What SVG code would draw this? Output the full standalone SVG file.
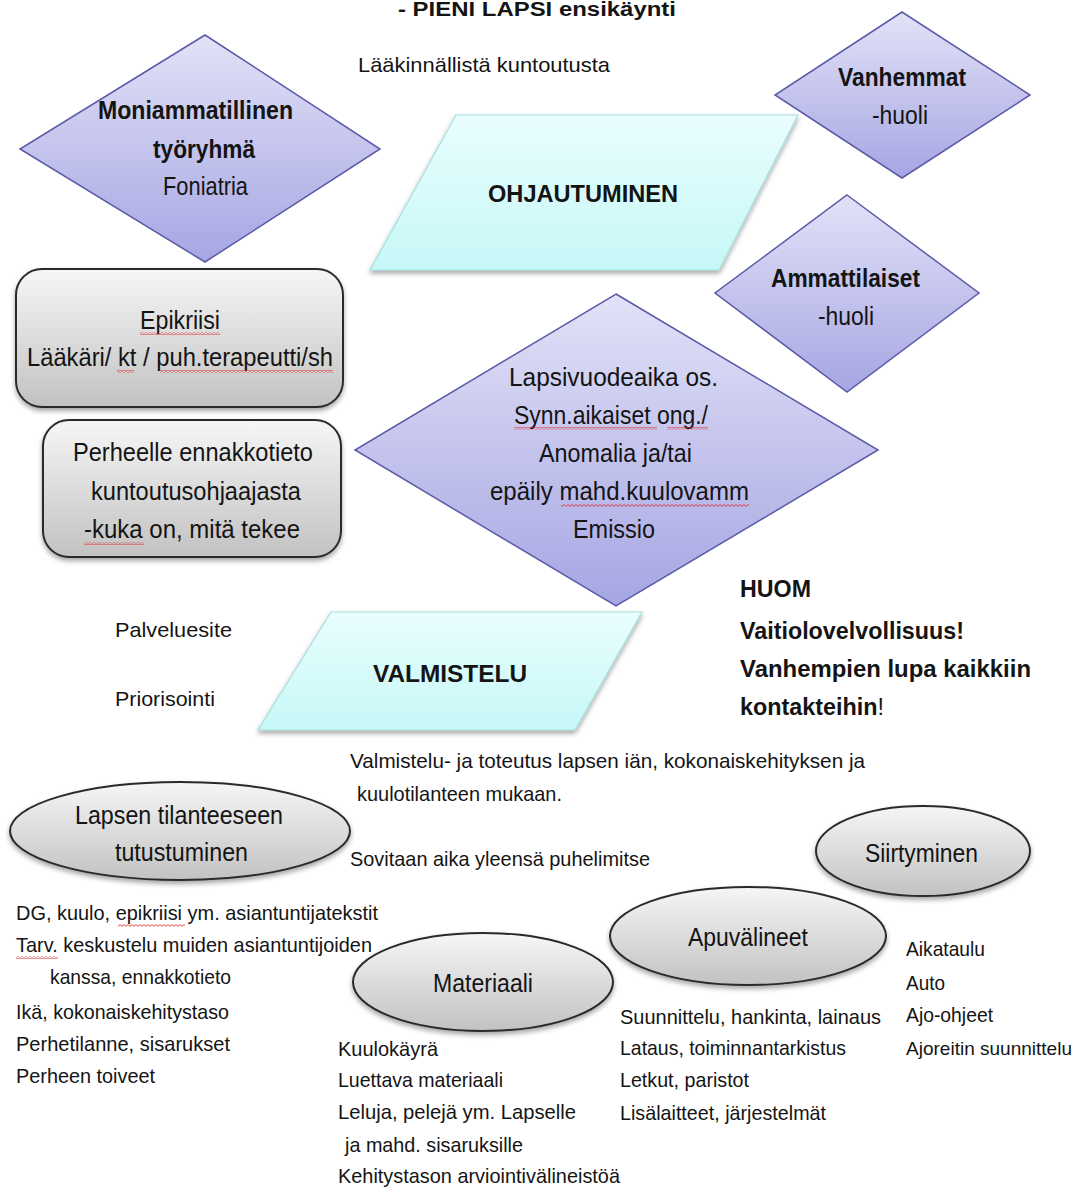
<svg xmlns="http://www.w3.org/2000/svg" width="1081" height="1187" viewBox="0 0 1081 1187">
  <defs>
    <linearGradient id="gDiamond" x1="0" y1="0" x2="0" y2="1">
      <stop offset="0" stop-color="#e2e2f8"/>
      <stop offset="1" stop-color="#a6a6e3"/>
    </linearGradient>
    <linearGradient id="gPara" x1="0" y1="0" x2="0" y2="1">
      <stop offset="0" stop-color="#eafefe"/>
      <stop offset="1" stop-color="#c6f7f7"/>
    </linearGradient>
    <linearGradient id="gGrey" x1="0" y1="0" x2="0" y2="1">
      <stop offset="0" stop-color="#f6f6f6"/>
      <stop offset="1" stop-color="#c2c2c2"/>
    </linearGradient>
    <filter id="shadow" x="-10%" y="-10%" width="120%" height="130%">
      <feDropShadow dx="0" dy="3" stdDeviation="2.5" flood-color="#000" flood-opacity="0.35"/>
    </filter>
    <pattern id="squiggle" width="4" height="3" patternUnits="userSpaceOnUse">
      <path d="M0,0.6 L2,2.4 L4,0.6" fill="none" stroke="#e03030" stroke-width="0.9"/>
    </pattern>
    <style>
      text { font-family: "Liberation Sans", Arial, sans-serif; fill: #141414; }
      .t20 { font-size: 21px; }
      .t22 { font-size: 23px; }
      .t24 { font-size: 25px; }
      .b { font-weight: bold; }
      .diamond { fill: url(#gDiamond); stroke: #5a5aa6; stroke-width: 1.5; }
      .para { fill: url(#gPara); stroke: #a6dede; stroke-width: 1.2; filter: url(#shadow); }
      .grey { fill: url(#gGrey); stroke: #2a2a2a; stroke-width: 2; filter: url(#shadow); }
      .sq { fill: url(#squiggle); }
    </style>
  </defs>

  <rect width="1081" height="1187" fill="#ffffff"/>

  <!-- free labels -->
  <g id="title">
    <text class="b" font-size="20" x="398" y="16" textLength="278" lengthAdjust="spacingAndGlyphs">- PIENI  LAPSI ensikäynti</text>
  </g>
  <g id="label-laakinnallista">
    <text class="t20" x="358" y="72" textLength="252" lengthAdjust="spacingAndGlyphs">Lääkinnällistä  kuntoutusta</text>
  </g>

  <!-- connectors (none drawn) -->
  <g id="connectors"></g>

  <!-- diamond: Moniammatillinen työryhmä -->
  <g id="node-moniammatillinen">
    <polygon class="diamond" points="205,35 380,149 205,262 20,149"/>
    <text class="t24 b" x="98" y="119" textLength="195" lengthAdjust="spacingAndGlyphs">Moniammatillinen</text>
    <text class="t24 b" x="153" y="158" textLength="102" lengthAdjust="spacingAndGlyphs">työryhmä</text>
    <text class="t24" x="163" y="195" textLength="85" lengthAdjust="spacingAndGlyphs">Foniatria</text>
  </g>

  <!-- parallelogram: OHJAUTUMINEN -->
  <g id="node-ohjautuminen">
    <polygon class="para" points="456,115 798,115 719,270 370,270"/>
    <text class="t22 b" x="488" y="202" textLength="190" lengthAdjust="spacingAndGlyphs">OHJAUTUMINEN</text>
  </g>

  <!-- diamond: Vanhemmat -->
  <g id="node-vanhemmat">
    <polygon class="diamond" points="902,12 1030,95 902,178 775,95"/>
    <text class="t24 b" x="838" y="86" textLength="128" lengthAdjust="spacingAndGlyphs">Vanhemmat</text>
    <text class="t24" x="872" y="124" textLength="56" lengthAdjust="spacingAndGlyphs">-huoli</text>
  </g>

  <!-- diamond: Ammattilaiset -->
  <g id="node-ammattilaiset">
    <polygon class="diamond" points="847,195 979,293 847,392 715,293"/>
    <text class="t24 b" x="771" y="287" textLength="149" lengthAdjust="spacingAndGlyphs">Ammattilaiset</text>
    <text class="t24" x="818" y="325" textLength="56" lengthAdjust="spacingAndGlyphs">-huoli</text>
  </g>

  <!-- rounded box: Epikriisi -->
  <g id="node-epikriisi">
    <rect class="grey" x="16" y="269" width="327" height="138" rx="26"/>
    <text class="t24" x="140" y="329" textLength="80" lengthAdjust="spacingAndGlyphs">Epikriisi</text>
    <text class="t24" x="27" y="366" textLength="306" lengthAdjust="spacingAndGlyphs">Lääkäri/  kt / puh.terapeutti/sh</text>
    <rect class="sq" x="140" y="332" width="80" height="3"/>
    <rect class="sq" x="117" y="370" width="17" height="3"/>
    <rect class="sq" x="160" y="370" width="173" height="3"/>
  </g>

  <!-- rounded box: Perheelle ennakkotieto -->
  <g id="node-perheelle">
    <rect class="grey" x="43" y="420" width="298" height="137" rx="26"/>
    <text class="t24" x="73" y="461" textLength="240" lengthAdjust="spacingAndGlyphs">Perheelle  ennakkotieto</text>
    <text class="t24" x="91" y="500" textLength="210" lengthAdjust="spacingAndGlyphs">kuntoutusohjaajasta</text>
    <text class="t24" x="84" y="538" textLength="216" lengthAdjust="spacingAndGlyphs">-kuka on,  mitä tekee</text>
    <rect class="sq" x="84" y="542" width="60" height="3"/>
  </g>

  <!-- diamond: Lapsivuodeaika -->
  <g id="node-lapsivuodeaika">
    <polygon class="diamond" points="616,294 878,450 616,606 355,450"/>
    <text class="t24" x="509" y="386" textLength="209" lengthAdjust="spacingAndGlyphs">Lapsivuodeaika  os.</text>
    <text class="t24" x="514" y="424" textLength="194" lengthAdjust="spacingAndGlyphs">Synn.aikaiset  ong./</text>
    <text class="t24" x="539" y="462" textLength="153" lengthAdjust="spacingAndGlyphs">Anomalia  ja/tai</text>
    <text class="t24" x="490" y="500" textLength="259" lengthAdjust="spacingAndGlyphs">epäily  mahd.kuulovamm</text>
    <text class="t24" x="573" y="538" textLength="82" lengthAdjust="spacingAndGlyphs">Emissio</text>
    <rect class="sq" x="514" y="427" width="143" height="3"/>
    <rect class="sq" x="667" y="427" width="41" height="3"/>
    <rect class="sq" x="561" y="504" width="188" height="3"/>
  </g>

  <!-- note: HUOM -->
  <g id="label-huom">
    <text class="t22 b" x="740" y="597" textLength="71" lengthAdjust="spacingAndGlyphs">HUOM</text>
    <text class="t22 b" x="740" y="639" textLength="224" lengthAdjust="spacingAndGlyphs">Vaitiolovelvollisuus!</text>
    <text class="t22 b" x="740" y="677" textLength="291" lengthAdjust="spacingAndGlyphs">Vanhempien  lupa kaikkiin</text>
    <text class="t22 b" x="740" y="715" textLength="144" lengthAdjust="spacingAndGlyphs">kontakteihin<tspan font-weight="normal">!</tspan></text>
  </g>

  <!-- parallelogram: VALMISTELU -->
  <g id="node-valmistelu">
    <polygon class="para" points="331,612 642,612 575,730 258,730"/>
    <text class="t22 b" x="373" y="682" textLength="154" lengthAdjust="spacingAndGlyphs">VALMISTELU</text>
  </g>
  <g id="label-valmistelu-side">
    <text class="t20" x="115" y="637" textLength="117" lengthAdjust="spacingAndGlyphs">Palveluesite</text>
    <text class="t20" x="115" y="706" textLength="100" lengthAdjust="spacingAndGlyphs">Priorisointi</text>
  </g>
  <g id="label-valmistelu-note">
    <text class="t20" x="350" y="768" textLength="515" lengthAdjust="spacingAndGlyphs">Valmistelu-  ja toteutus  lapsen iän, kokonaiskehityksen ja</text>
    <text class="t20" x="357" y="801" textLength="205" lengthAdjust="spacingAndGlyphs">kuulotilanteen  mukaan.</text>
    <text class="t20" x="350" y="866" textLength="300" lengthAdjust="spacingAndGlyphs">Sovitaan aika yleensä puhelimitse</text>
  </g>

  <!-- ellipse: Lapsen tilanteeseen tutustuminen -->
  <g id="node-lapsen-tilanne">
    <ellipse class="grey" cx="180" cy="831" rx="170" ry="49"/>
    <text class="t24" x="75" y="824" textLength="208" lengthAdjust="spacingAndGlyphs">Lapsen  tilanteeseen</text>
    <text class="t24" x="115" y="861" textLength="133" lengthAdjust="spacingAndGlyphs">tutustuminen</text>
  </g>
  <g id="list-lapsen-tilanne">
    <text class="t20" x="16" y="920" textLength="362" lengthAdjust="spacingAndGlyphs">DG, kuulo,  epikriisi  ym. asiantuntijatekstit</text>
    <text class="t20" x="16" y="952" textLength="356" lengthAdjust="spacingAndGlyphs">Tarv.  keskustelu  muiden  asiantuntijoiden</text>
    <text class="t20" x="50" y="984" textLength="181" lengthAdjust="spacingAndGlyphs">kanssa, ennakkotieto</text>
    <text class="t20" x="16" y="1019" textLength="213" lengthAdjust="spacingAndGlyphs">Ikä, kokonaiskehitystaso</text>
    <text class="t20" x="16" y="1051" textLength="214" lengthAdjust="spacingAndGlyphs">Perhetilanne,  sisarukset</text>
    <text class="t20" x="16" y="1083" textLength="139" lengthAdjust="spacingAndGlyphs">Perheen  toiveet</text>
    <rect class="sq" x="118" y="924" width="67" height="3"/>
    <rect class="sq" x="16" y="956" width="42" height="3"/>
  </g>

  <!-- ellipse: Siirtyminen -->
  <g id="node-siirtyminen">
    <ellipse class="grey" cx="923" cy="851" rx="107" ry="45"/>
    <text class="t24" x="865" y="862" textLength="113" lengthAdjust="spacingAndGlyphs">Siirtyminen</text>
  </g>
  <g id="list-siirtyminen">
    <text class="t20" x="906" y="956" textLength="79" lengthAdjust="spacingAndGlyphs">Aikataulu</text>
    <text class="t20" x="906" y="990" textLength="39" lengthAdjust="spacingAndGlyphs">Auto</text>
    <text class="t20" x="906" y="1022" textLength="87" lengthAdjust="spacingAndGlyphs">Ajo-ohjeet</text>
    <text font-size="19" x="906" y="1055" textLength="166" lengthAdjust="spacingAndGlyphs">Ajoreitin suunnittelu</text>
  </g>

  <!-- ellipse: Apuvälineet -->
  <g id="node-apuvalineet">
    <ellipse class="grey" cx="748" cy="936" rx="138" ry="49"/>
    <text class="t24" x="688" y="946" textLength="120" lengthAdjust="spacingAndGlyphs">Apuvälineet</text>
  </g>
  <g id="list-apuvalineet">
    <text class="t20" x="620" y="1024" textLength="261" lengthAdjust="spacingAndGlyphs">Suunnittelu,  hankinta,  lainaus</text>
    <text class="t20" x="620" y="1055" textLength="226" lengthAdjust="spacingAndGlyphs">Lataus,  toiminnantarkistus</text>
    <text class="t20" x="620" y="1087" textLength="129" lengthAdjust="spacingAndGlyphs">Letkut,  paristot</text>
    <text class="t20" x="620" y="1120" textLength="206" lengthAdjust="spacingAndGlyphs">Lisälaitteet,  järjestelmät</text>
  </g>

  <!-- ellipse: Materiaali -->
  <g id="node-materiaali">
    <ellipse class="grey" cx="483" cy="982" rx="130" ry="49"/>
    <text class="t24" x="433" y="992" textLength="100" lengthAdjust="spacingAndGlyphs">Materiaali</text>
  </g>
  <g id="list-materiaali">
    <text class="t20" x="338" y="1056" textLength="100" lengthAdjust="spacingAndGlyphs">Kuulokäyrä</text>
    <text class="t20" x="338" y="1087" textLength="165" lengthAdjust="spacingAndGlyphs">Luettava  materiaali</text>
    <text class="t20" x="338" y="1119" textLength="238" lengthAdjust="spacingAndGlyphs">Leluja,  pelejä  ym. Lapselle</text>
    <text class="t20" x="345" y="1152" textLength="178" lengthAdjust="spacingAndGlyphs">ja mahd.  sisaruksille</text>
    <text class="t20" x="338" y="1183" textLength="282" lengthAdjust="spacingAndGlyphs">Kehitystason  arviointivälineistöä</text>
  </g>
</svg>
